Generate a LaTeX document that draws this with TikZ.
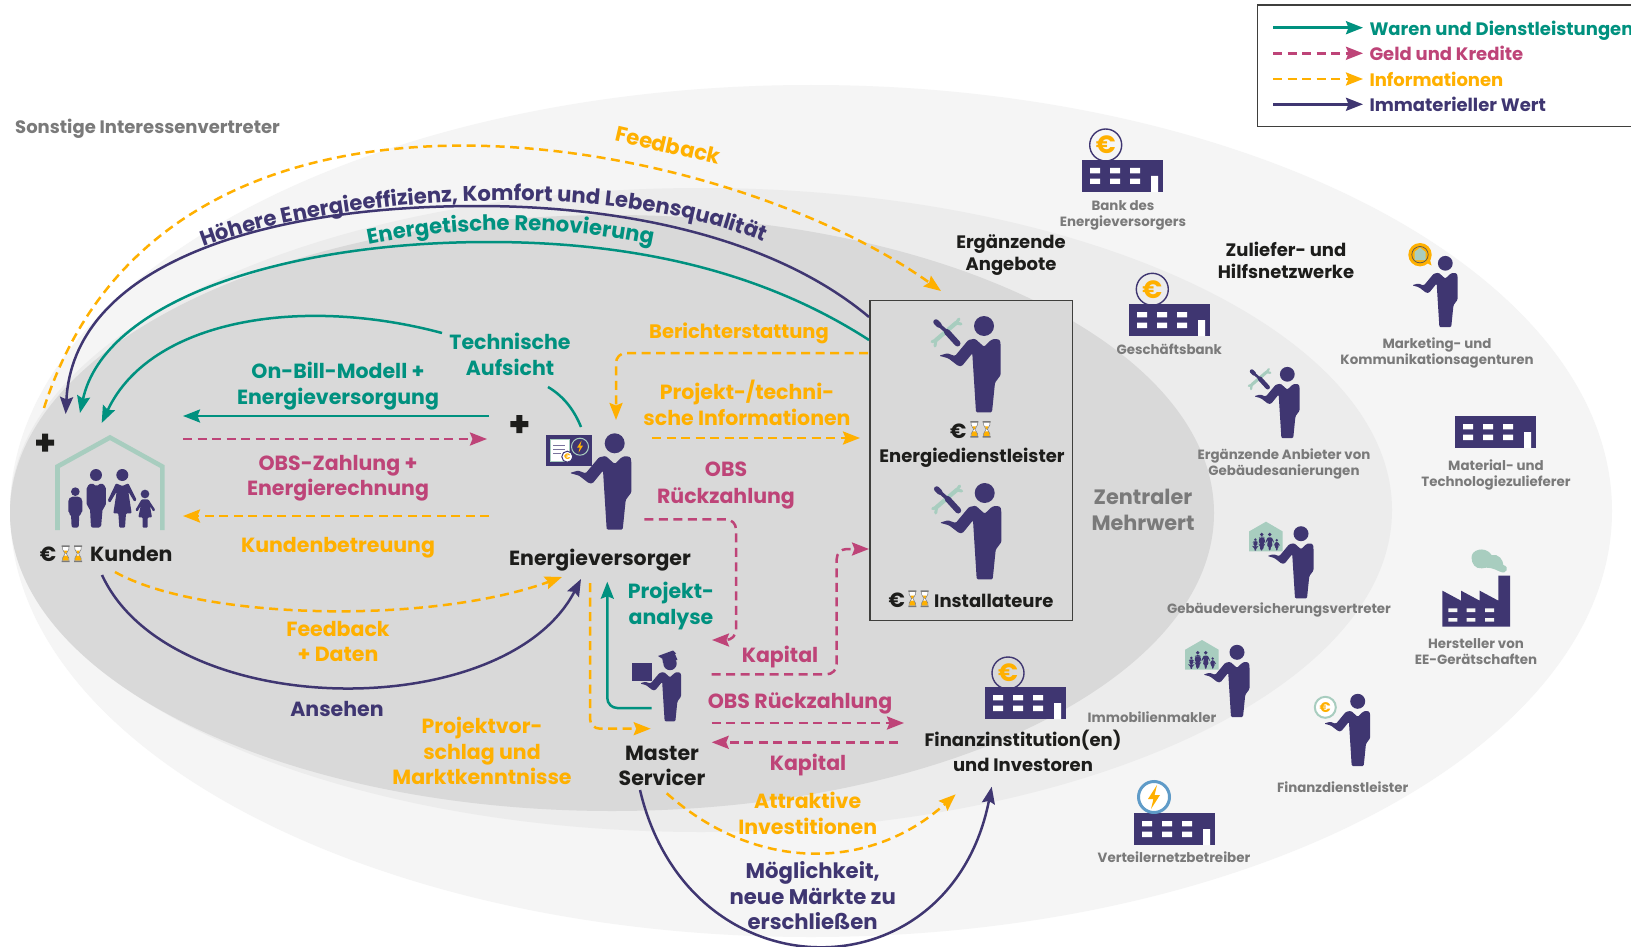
\documentclass[tikz,border=0pt]{standalone}
\usepackage{fontspec}
\setmainfont{Poppins}
\usetikzlibrary{arrows.meta,decorations.text}
\definecolor{teal2}{HTML}{00917F}
\definecolor{mag}{HTML}{BE4478}
\definecolor{org}{HTML}{FFB000}
\definecolor{pur}{HTML}{3F3671}
\definecolor{blk}{HTML}{1D1D1B}
\definecolor{gry}{HTML}{7A7A7A}
\definecolor{grn}{HTML}{A8CDBF}
\definecolor{blu}{HTML}{5F9BC8}
\definecolor{ell1}{HTML}{F5F5F5}
\definecolor{ell2}{HTML}{ECECEC}
\definecolor{ell3}{HTML}{D9D9D9}
\newcommand{\mf}{\bfseries\fontsize{20.5}{25.5}\selectfont}
\newcommand{\cf}{\bfseries\fontsize{21.2}{25.5}\selectfont}
\newcommand{\blf}{\bfseries\fontsize{18}{25.5}\selectfont}
\newcommand{\sfnt}{\bfseries\fontsize{13.4}{16}\selectfont}
\newcommand{\hf}{\bfseries\fontsize{18}{22}\selectfont}
\tikzset{
 lab/.style={align=center,inner sep=0pt,font=\mf},
 small/.style={align=center,inner sep=0pt,font=\sfnt,text=gry},
 con/.style={line width=2.5pt,-{Stealth[length=17pt,width=13pt,inset=2.5pt]}},
 plain/.style={line width=2.5pt},
 dsh/.style={dash pattern=on 9pt off 5.5pt},
}
\newcommand{\person}[4]{%
 \begin{scope}[shift={(#1,#2)},scale=#3]
 #4
 \fill[pur] (0,0) circle[radius=10];
 \fill[pur,rounded corners=1.2pt] (0,20.7) -- (7,14) -- (11,12.7) -- (16,14) -- (16.7,20) -- (16.7,49) -- (11,56.7) -- (8,86.3) -- (-8,86.3) -- (-11.7,27.3) -- (-22,40) -- (-25.7,40) -- (-35.7,32.3) -- (-45,29.7) -- (-36.7,27.3) -- (-29,30) -- (-15.7,14) -- (-9,12.7) -- cycle;
 \end{scope}}
\newcommand{\tool}[1]{%
 \draw[grn,line width=#1*4.2pt,line cap=round] (-48,14) -- (-28,-3);
 \draw[grn,line width=#1*3pt,line cap=round] (-28,-3) -- (-25,-7) (-28,-3) -- (-23,-2) (-48,14) -- (-52,15.7) (-48,14) -- (-49,20);
 \draw[pur,line width=#1*5.5pt,line cap=round] (-48,-4) -- (-45,-1);
 \draw[pur,line width=#1*3.5pt] (-45,-1) -- (-37,6);
 \draw[pur,line width=#1*6pt,line cap=round] (-37,6) -- (-26.5,17.5);}
\newcommand{\building}[2]{%
 \begin{scope}[shift={(#1,#2)}]
 \fill[pur] (0,0) rectangle (81,32);
 \fill[white] (8,8) rectangle (18,13.3) (28,8) rectangle (38,13.3) (48,8) rectangle (58,13.3)
   (8,18.7) rectangle (18,24) (28,18.7) rectangle (38,24) (48,18.7) rectangle (58,24) (69,16) rectangle (76,32);
 \end{scope}}
\newcommand{\coin}[2]{%
 \draw[pur,line width=1.4pt] (#1,#2) circle[radius=16];
 \node[inner sep=0pt,text=org,font=\bfseries\fontsize{25}{25}\selectfont] at (#1,#2) {€};}
\newcommand{\famzoom}{%
 \fill[pur] (288,285) circle[radius=18] (367,285) circle[radius=18] (226,335) circle[radius=13] (435,342) circle[radius=13];
 \fill[pur,rounded corners=2pt] (260,320) -- (275,308) -- (290,320) -- (303,308) -- (318,320) -- (318,378) -- (308,385) -- (303,443) -- (273,443) -- (270,385) -- (260,378) -- cycle;
 \fill[pur,rounded corners=1pt] (348,310) -- (367,318) -- (385,310) -- (410,360) -- (403,365) -- (385,335) -- (395,400) -- (378,400) -- (375,443) -- (358,443) -- (355,400) -- (340,400) -- (350,335) -- (330,368) -- (323,362) -- cycle;
 \fill[pur,rounded corners=2pt] (205,358) -- (212,350) -- (240,350) -- (247,358) -- (247,400) -- (238,402) -- (236,443) -- (215,443) -- (213,402) -- (205,400) -- cycle;
 \fill[pur,rounded corners=1pt] (425,358) -- (445,358) -- (466,390) -- (460,395) -- (450,378) -- (456,412) -- (443,412) -- (443,443) -- (428,443) -- (428,412) -- (415,412) -- (422,378) -- (412,395) -- (406,390) -- cycle;}
\newcommand{\smallhouse}[2]{%
 \begin{scope}[shift={(#1,#2)},scale=0.102,shift={(-330,-160)}]
 \fill[grn] (165,450) -- (165,255) -- (330,160) -- (493,255) -- (493,450) -- cycle;
 \famzoom
 \end{scope}}
\newcommand{\hglass}[2]{%
 \begin{scope}[shift={(#1,#2)}]
 \fill[white] (-3,-7) -- (3,-7) -- (3,-4.5) -- (0.7,0) -- (3,4.5) -- (3,7) -- (-3,7) -- (-3,4.5) -- (-0.7,0) -- (-3,-4.5) -- cycle;
 \fill[org] (-3,7) -- (3,7) -- (3,4.5) -- (1.6,2) -- (-1.6,2) -- (-3,4.5) -- cycle;
 \fill[org] (-1.8,-3) -- (1.8,-3) -- (0.5,0) -- (-0.5,0) -- cycle;
 \fill[gry] (-4,-8.3) rectangle (4,-6.8) (-4,6.8) rectangle (4,8.3);
 \draw[gry,line width=0.5pt] (-3.2,-7) -- (-3.2,-4.5) -- (-0.7,0) -- (-3.2,4.5) -- (-3.2,7) (3.2,-7) -- (3.2,-4.5) -- (0.7,0) -- (3.2,4.5) -- (3.2,7);
 \end{scope}}
\newcommand{\bolt}[3]{%
 \fill[org,shift={(#1,#2)},scale=#3] (1.5,-6) -- (-3,1) -- (-0.3,1) -- (-1.5,6) -- (3,-1) -- (0.3,-1) -- cycle;}
\begin{document}
\begin{tikzpicture}[x=1pt,y=-1pt]
\useasboundingbox (0,0) rectangle (1631,947);
\fill[white] (0,0) rectangle (1631,947);
% ellipses
\fill[ell1] (811,511) ellipse[x radius=801,y radius=426];
\fill[ell2] (701,510) ellipse[x radius=691,y radius=322];
\fill[ell3] (612,513) ellipse[x radius=602,y radius=298];
% box
\node[draw=blk!85,line width=1.3pt,fill=ell3,inner sep=0pt,minimum width=202.7pt,minimum height=320.4pt] (box) at (971.35,460.5) {};
% legend
\draw[blk!85,line width=1.4pt,fill=white] (1257.3,5) rectangle (1650,126.7);
\coordinate (la1) at (1273,27.7); \coordinate (la2) at (1363,27.7);
\coordinate (lb1) at (1273,53.3); \coordinate (lb2) at (1363,53.3);
\coordinate (lc1) at (1273,79); \coordinate (lc2) at (1363,79);
\coordinate (ld1) at (1273,104.3); \coordinate (ld2) at (1363,104.3);
\draw[con,teal2] (la1) -- (la2);
\draw[con,mag,dsh] (lb1) -- (lb2);
\draw[con,org,dsh] (lc1) -- (lc2);
\draw[con,pur] (ld1) -- (ld2);
\node[lab,anchor=west,text=teal2,font=\hf] (lt1) at (1369.3,31) {Waren und Dienstleistungen};
\node[lab,anchor=west,text=mag,font=\hf] (lt2) at (1369.3,53.5) {Geld und Kredite};
\node[lab,anchor=west,text=org,font=\hf] (lt3) at (1369.3,79.5) {Informationen};
\node[lab,anchor=west,text=pur,font=\hf] (lt4) at (1369.3,104.5) {Immaterieller Wert};
% actors
\draw[grn,line width=4.6pt] (57.5,530) -- (57.5,466.5) -- (110,437.5) -- (162.3,466.5) -- (162.3,530);
\begin{scope}[shift={(0,380)},scale=1/3]\famzoom\end{scope}
\fill[blk] (36,439.5) rectangle (54,445.5) (42,433.5) rectangle (48,451.5);
\fill[blk] (510.3,421) rectangle (528.3,427) (516.3,415) rectangle (522.3,433);
\person{614.7}{443.3}{1}{}
\fill[pur] (546,435.3) rectangle (591.7,466);
\fill[white,draw=grn,line width=0.8pt] (550,439.3) rectangle (569,461.7);
\draw[pur!70,line width=1pt] (553,445) -- (565,445) (553,449) -- (565,449) (553,453) -- (561,453);
\draw[pur,fill=white,line width=1pt] (567.3,456.7) circle[radius=5.5];
\node[inner sep=0pt,text=org,font=\bfseries\fontsize{8}{8}\selectfont] at (567.3,456.7) {€};
\draw[grn,line width=1pt] (580,446.7) circle[radius=8.5];
\bolt{580}{446.7}{1}
\person{984}{326}{1}{\tool{1}}
\person{984.7}{493}{1}{\tool{1}}
\person{670}{663.5}{0.67}{}
\fill[pur] (631.7,662.7) rectangle (652.3,680.7);
\fill[pur] (658,656) -- (673,650.5) -- (676,653.5) -- (662,658.5) -- cycle;
\fill[pur] (662,657) -- (674,653) -- (677,660) -- (663,663) -- cycle;
\draw[pur,line width=1pt] (674,653) -- (677,660);
\person{1287.3}{374.3}{0.74}{\tool{0.74}}
\person{1301}{533.7}{0.75}{}
\smallhouse{1266}{521.7}
\person{1237}{652.3}{0.75}{}
\smallhouse{1202}{640}
\person{1357.7}{701.3}{0.75}{}
\draw[grn,line width=2pt,fill=white] (1325.3,707.3) circle[radius=10.5];
\node[inner sep=0pt,text=org,font=\bfseries\fontsize{14}{14}\selectfont] at (1325.3,707.3) {€};
\person{1445.3}{263.3}{0.74}{}
\fill[org] (1420,254.7) circle[radius=11.7];
\fill[org] (1425,262) -- (1431.5,265.5) -- (1429,256) -- cycle;
\fill[grn] (1414.5,260) -- (1414.5,252) -- (1420,247.5) -- (1425.5,252) -- (1425.5,260) -- cycle;
\draw[gry!70!black,line width=0.7pt] (1420,254.7) circle[radius=8.2];
\building{1082}{160}\coin{1105.7}{145}
\building{1129}{304}\coin{1152.3}{289.3}
\building{985}{687}\coin{1008}{673}
\building{1455}{416}
\building{1134}{813}
\draw[blu,line width=3pt,fill=white] (1154,797) circle[radius=15.5];
\bolt{1154}{797}{2}
% factory
\begin{scope}[shift={(1160,500)},scale=1/3]
\fill[pur] (847,380) -- (847,272) -- (903,302) -- (903,272) -- (959,302) -- (959,272) -- (1015,302) -- (1015,227) -- (1050,227) -- (1050,380) -- cycle;
\fill[ell1] (865,325) rectangle (892,336) (920,325) rectangle (946,336) (975,325) rectangle (1002,336)
 (865,354) rectangle (892,365) (920,354) rectangle (946,365) (975,354) rectangle (1002,365);
\fill[grn] (935,175) .. controls (930,150) and (975,135) .. (995,165) .. controls (1015,160) and (1030,180) .. (1030,195) .. controls (1050,200) and (1040,225) .. (1020,215) .. controls (1000,205) and (985,200) .. (965,205) .. controls (945,207) and (935,190) .. (935,175) -- cycle;
\end{scope}
% € and hourglasses
\node[lab,text=blk] (ke) at (48,554) {€};
\hglass{65.7}{553.7}\hglass{78}{553.7}
\node[lab,text=blk,anchor=west] (kunden) at (90,554) {Kunden};
\node[lab,text=blk] (e1) at (958.3,431) {€};
\hglass{974.3}{429.3}\hglass{986.7}{429.3}
\node[lab,text=blk,font=\blf] (edl) at (972,458) {Energiedienstleister};
\node[lab,text=blk] (e2) at (896.7,600.7) {€};
\hglass{912.3}{598.7}\hglass{924.7}{598.7}
\node[lab,text=blk,anchor=west,font=\blf] (inst) at (934,600.7) {Installateure};
% labels
\node[lab,anchor=west,text=gry,font=\bfseries\fontsize{18}{20}\selectfont] (sonst) at (15,129) {Sonstige Interessenvertreter};
\node[lab,text=org,rotate=-13,font=\cf] (fb) at (668,145) {Feedback};
\path[decorate,decoration={text along path,text align=center,text={|\color{pur}\cf|Höhere Energieeffizienz, Komfort und Lebensqualität}}] (194,250) .. controls (330,195) and (620,176) .. (772,246);
\path[decorate,decoration={text along path,text align=center,text={|\color{teal2}\cf|Energetische Renovierung}}] (362,246) .. controls (460,225) and (560,225) .. (659,246);
\node[lab,text=blk,font=\hf] (erg) at (1011,255) {Ergänzende\\Angebote};
\node[lab,text=blk,font=\hf] (zul) at (1286,260) {Zuliefer- und\\Hilfsnetzwerke};
\node[lab,text=teal2] (tech) at (510,354.6) {Technische\\Aufsicht};
\node[lab,text=teal2] (onb) at (338,386) {On-Bill-Modell +\\Energieversorgung};
\node[lab,text=mag] (obsz) at (338,478) {OBS-Zahlung +\\Energierechnung};
\node[lab,text=org] (kb) at (338,548) {Kundenbetreuung};
\node[lab,text=org] (fd) at (338,641.5) {Feedback\\+ Daten};
\node[lab,text=pur] (ans) at (337,709) {Ansehen};
\node[lab,text=org] (pv) at (482,751) {Projektvor-\\schlag und\\Marktkenntnisse};
\node[lab,text=org,font=\bfseries\fontsize{19.5}{25}\selectfont] (ber) at (739,333) {Berichterstattung};
\node[lab,text=org] (pti) at (747,403) {Projekt-/techni-\\sche Informationen};
\node[lab,text=mag,font=\bfseries\fontsize{20.5}{27}\selectfont] (obsr) at (726,485.5) {OBS\\Rückzahlung};
\node[lab,text=blk] (ev) at (600,560) {Energieversorger};
\node[lab,text=teal2] (pa) at (671,606) {Projekt-\\analyse};
\node[lab,text=mag] (kap1) at (780,657) {Kapital};
\node[lab,text=mag] (obsr2) at (800,703) {OBS Rückzahlung};
\node[lab,text=mag] (kap2) at (808,765) {Kapital};
\node[lab,text=org] (att) at (807.7,813.5) {Attraktive\\Investitionen};
\node[lab,text=pur,font=\bfseries\fontsize{21.2}{25.5}\selectfont] (moe) at (812.7,896) {Möglichkeit,\\neue Märkte zu\\erschließen};
\node[lab,text=blk] (ms) at (662,766) {Master\\Servicer};
\node[lab,text=blk,font=\blf] (fin) at (1023,751) {Finanzinstitution(en)\\und Investoren};
\node[lab,text=gry,font=\bfseries\fontsize{20.8}{26}\selectfont] (zm) at (1143,510) {Zentraler\\Mehrwert};
\node[small] (s1) at (1123,215) {Bank des\\Energieversorgers};
\node[small] (s2) at (1169.3,349) {Geschäftsbank};
\node[small] (s3) at (1284,464) {Ergänzende Anbieter von\\Gebäudesanierungen};
\node[small] (s4) at (1437,353) {Marketing- und\\Kommunikationsagenturen};
\node[small] (s5) at (1496,475) {Material- und\\Technologiezulieferer};
\node[small] (s6) at (1279,610) {Gebäudeversicherungsvertreter};
\node[small] (s7) at (1476,652) {Hersteller von\\EE-Gerätschaften};
\node[small] (s8) at (1152,717) {Immobilienmakler};
\node[small] (s9) at (1342.7,787) {Finanzdienstleister};
\node[small] (s10) at (1174,857) {Verteilernetzbetreiber};
% connector ends
\coordinate (kTipP) at (65.7,414);
\coordinate (kTipT) at (80,413);
\coordinate (kTipA) at (101.7,423);
\coordinate (boxP) at (869,317);
\coordinate (boxT) at (869,340);
\coordinate (boxFb) at (941,291);
\coordinate (kFb) at (44,408);
\coordinate (techA) at (442,333);
\coordinate (techB) at (548,387);
\coordinate (evT) at (581,427);
\coordinate (kOut) at (102,575);
\coordinate (kOutO) at (115,572);
\coordinate (evO) at (562,577);
\coordinate (evP) at (581,579);
% connectors
\draw[con,org,dsh] (kFb) .. controls (168,23) and (723,135) .. (boxFb);
\draw[con,pur] (boxP) .. controls (770,234) and (614,206) .. (478,206) .. controls (250,206) and (73,270) .. (kTipP);
\draw[con,teal2] (boxT) .. controls (770,276) and (645,242) .. (489,242) .. controls (281,242) and (104,302) .. (kTipT);
\draw[con,teal2] (techA) .. controls (300,295) and (150,320) .. (kTipA);
\draw[plain,teal2] (techB) .. controls (565,397) and (575,412) .. (evT);
\coordinate (a1) at (489,416); \coordinate (a2) at (183,416);
\coordinate (b1) at (183,439); \coordinate (b2) at (487,439);
\coordinate (c1) at (489,516); \coordinate (c2) at (183,516);
\draw[con,teal2] (a1) -- (a2);
\draw[con,mag,dsh] (b1) -- (b2);
\draw[con,org,dsh] (c1) -- (c2);
\draw[con,org,dsh] (kOutO) .. controls (200,620) and (430,625) .. (evO);
\draw[con,pur] (kOut) .. controls (170,722) and (505,725) .. (evP);
\coordinate (d1) at (868,353); \coordinate (d2) at (616,420);
\draw[con,org,dsh,rounded corners=10pt] (d1) -| (d2);
\coordinate (e3) at (652,438); \coordinate (e4) at (860,438);
\draw[con,org,dsh] (e3) -- (e4);
\coordinate (f1) at (644.3,519.3); \coordinate (f2) at (712,640);
\draw[con,mag,dsh,rounded corners=10pt] (f1) -- (736,519.3) -- (736,640) -- (f2);
\coordinate (g1) at (711.7,674.3); \coordinate (g2) at (869,549);
\draw[con,mag,dsh,rounded corners=10pt] (g1) -- (836.7,674.3) -- (836.7,549) -- (g2);
\coordinate (h1) at (651.7,708); \coordinate (h2) at (607.3,581.7);
\draw[con,teal2,rounded corners=10pt] (h1) -| (h2);
\coordinate (i1) at (590,583); \coordinate (i2) at (650.7,728.7);
\draw[con,org,dsh,rounded corners=10pt] (i1) |- (i2);
\coordinate (j1) at (711.7,723); \coordinate (j2) at (904,723);
\draw[con,mag,dsh] (j1) -- (j2);
\coordinate (l1) at (898,742.3); \coordinate (l2) at (711.7,742.3);
\draw[con,mag,dsh] (l1) -- (l2);
\coordinate (m1) at (666.7,793.3); \coordinate (m2) at (955.7,794.3);
\draw[con,org,dsh] (m1) .. controls (755,872) and (870,872) .. (m2);
\coordinate (n1) at (640,790); \coordinate (n2) at (991.7,786.7);
\draw[con,pur] (n1) .. controls (689,998) and (950,998) .. (n2);
\end{tikzpicture}
\end{document}
